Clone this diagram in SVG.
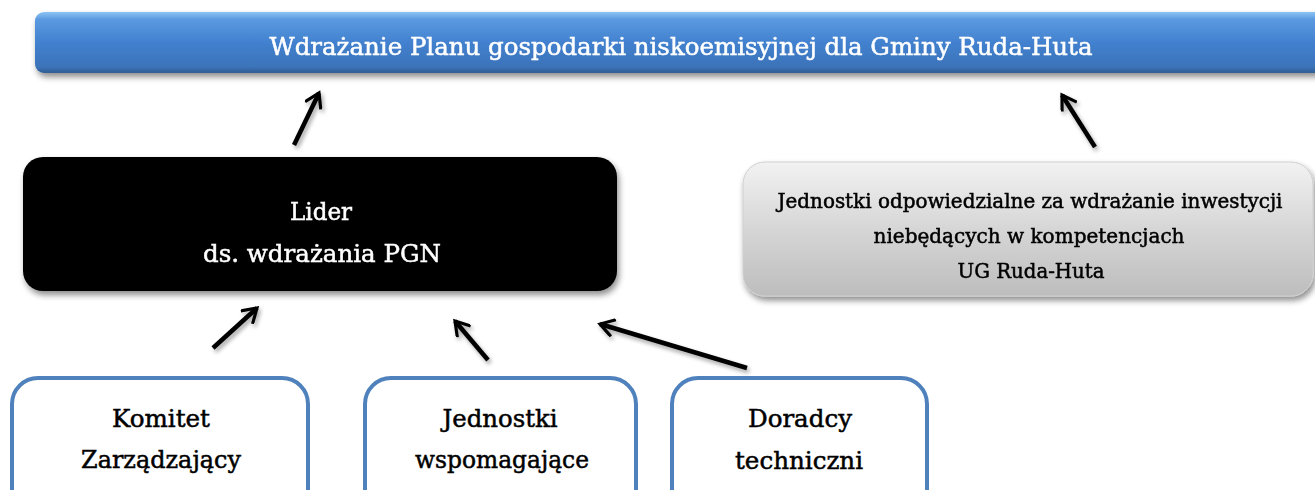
<svg xmlns="http://www.w3.org/2000/svg" width="1315" height="490" viewBox="0 0 1315 490">
<defs>
<linearGradient id="gBlue" x1="0" y1="0" x2="0" y2="1">
<stop offset="0" stop-color="#8cc4f5"/>
<stop offset="0.12" stop-color="#5b9ae0"/>
<stop offset="0.5" stop-color="#4281cf"/>
<stop offset="0.9" stop-color="#3b73b9"/>
<stop offset="1" stop-color="#2f5c93"/>
</linearGradient>
<linearGradient id="gGray" x1="0" y1="0" x2="0" y2="1">
<stop offset="0" stop-color="#f2f2f2"/>
<stop offset="0.5" stop-color="#d6d6d6"/>
<stop offset="1" stop-color="#bdbdbd"/>
</linearGradient>
<filter id="sh" x="-5%" y="-20%" width="110%" height="150%">
<feGaussianBlur in="SourceAlpha" stdDeviation="3"/>
<feOffset dx="2" dy="4" result="b"/>
<feComponentTransfer><feFuncA type="linear" slope="0.45"/></feComponentTransfer>
<feMerge><feMergeNode/><feMergeNode in="SourceGraphic"/></feMerge>
</filter>
<filter id="ash" x="-50%" y="-50%" width="200%" height="200%">
<feGaussianBlur in="SourceAlpha" stdDeviation="2"/>
<feOffset dx="2" dy="3"/>
<feComponentTransfer><feFuncA type="linear" slope="0.35"/></feComponentTransfer>
<feMerge><feMergeNode/><feMergeNode in="SourceGraphic"/></feMerge>
</filter>
<marker id="ah" viewBox="0 0 12 12" refX="10" refY="6" markerWidth="4.2" markerHeight="4.2" orient="auto" markerUnits="strokeWidth">
<path d="M2,1 L10,6 L2,11" fill="none" stroke="#000" stroke-width="2" stroke-linecap="square" stroke-linejoin="miter"/>
</marker>
<style>
text{font-family:"DejaVu Serif","Liberation Serif",serif;text-anchor:middle;stroke-width:0.5}
.w{fill:#fff;stroke:#fff}
.k{fill:#000;stroke:#000}
.t{font-size:24px}
.m{font-size:24px}
.s{font-size:20px}
.ob{fill:#fff;stroke:#4f81bd;stroke-width:4}
.arr{stroke:#000;stroke-width:4.5;fill:none;marker-end:url(#ah)}
</style>
</defs>
<g id="top" filter="url(#sh)">
<rect x="35" y="12" width="1290" height="61" rx="9" fill="url(#gBlue)"/>
<text class="w t" x="681" y="55" textLength="823" lengthAdjust="spacingAndGlyphs">Wdrażanie Planu gospodarki niskoemisyjnej dla Gminy Ruda-Huta</text>
</g>
<g id="lider" filter="url(#sh)">
<rect x="23" y="157" width="594" height="134" rx="20" fill="#000"/>
<text class="w m" x="321" y="220" textLength="62" lengthAdjust="spacingAndGlyphs">Lider</text>
<text class="w m" x="322" y="262" textLength="238" lengthAdjust="spacingAndGlyphs">ds. wdrażania PGN</text>
</g>
<g id="jednostki-odp" filter="url(#sh)">
<rect x="743" y="162" width="570" height="134" rx="22" fill="url(#gGray)" stroke="#cfcfcf" stroke-width="1"/>
<text class="k s" x="1030" y="208" textLength="505" lengthAdjust="spacingAndGlyphs">Jednostki odpowiedzialne za wdrażanie inwestycji</text>
<text class="k s" x="1029" y="243" textLength="311" lengthAdjust="spacingAndGlyphs">niebędących w kompetencjach</text>
<text class="k s" x="1031" y="278" textLength="147" lengthAdjust="spacingAndGlyphs">UG Ruda-Huta</text>
</g>
<g id="komitet">
<rect class="ob" x="12" y="378" width="296" height="140" rx="26"/>
<text class="k m" x="161" y="427" textLength="98" lengthAdjust="spacingAndGlyphs">Komitet</text>
<text class="k m" x="161" y="468" textLength="160" lengthAdjust="spacingAndGlyphs">Zarządzający</text>
</g>
<g id="jednostki-wsp">
<rect class="ob" x="365" y="378" width="271" height="140" rx="26"/>
<text class="k m" x="500" y="427" textLength="115" lengthAdjust="spacingAndGlyphs">Jednostki</text>
<text class="k m" x="502" y="468" textLength="174" lengthAdjust="spacingAndGlyphs">wspomagające</text>
</g>
<g id="doradcy">
<rect class="ob" x="672" y="378" width="255" height="140" rx="26"/>
<text class="k m" x="800" y="427" textLength="104" lengthAdjust="spacingAndGlyphs">Doradcy</text>
<text class="k m" x="799" y="469" textLength="128" lengthAdjust="spacingAndGlyphs">techniczni</text>
</g>
<g id="connectors" filter="url(#ash)">
<line class="arr" x1="294" y1="145" x2="319" y2="93"/>
<line class="arr" x1="1095" y1="147" x2="1062" y2="95"/>
<line class="arr" x1="213" y1="348" x2="257" y2="308"/>
<line class="arr" x1="488" y1="360" x2="455" y2="321"/>
<line class="arr" x1="747" y1="368" x2="600" y2="324"/>
</g>
</svg>
